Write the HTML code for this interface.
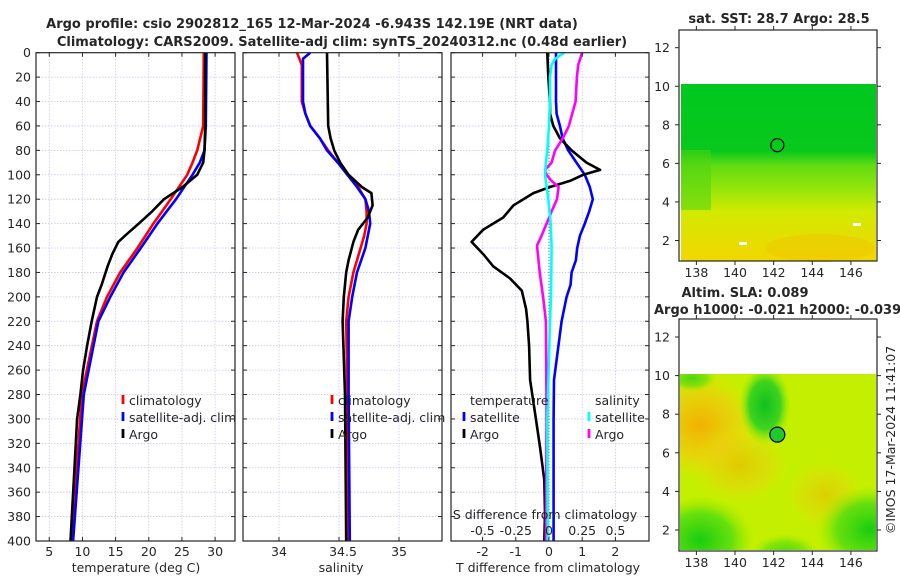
<!DOCTYPE html>
<html><head><meta charset="utf-8">
<style>
html,body{margin:0;padding:0;background:#fff;}
svg{display:block;font-family:"DejaVu Sans","Liberation Sans",sans-serif;}
</style></head>
<body>
<svg id="fig" width="900" height="580" viewBox="0 0 900 580" xmlns="http://www.w3.org/2000/svg">
<defs>
  <linearGradient id="sstGrad" x1="0" y1="0" x2="0" y2="1">
    <stop offset="0" stop-color="#00c81e"/>
    <stop offset="0.38" stop-color="#08c81c"/>
    <stop offset="0.46" stop-color="#60dc12"/>
    <stop offset="0.6" stop-color="#98e60a"/>
    <stop offset="0.72" stop-color="#d2ea00"/>
    <stop offset="1" stop-color="#f2d600"/>
  </linearGradient>
  <radialGradient id="orangeBlob"><stop offset="0" stop-color="#f2b000"/><stop offset="0.6" stop-color="#f0cc10" stop-opacity="0.7"/><stop offset="1" stop-color="#e8e000" stop-opacity="0"/></radialGradient>
  <radialGradient id="greenBlob"><stop offset="0" stop-color="#10c020"/><stop offset="0.6" stop-color="#30d020" stop-opacity="0.9"/><stop offset="1" stop-color="#90e810" stop-opacity="0"/></radialGradient>
  <radialGradient id="greenBlob2"><stop offset="0" stop-color="#18cc10"/><stop offset="0.6" stop-color="#50dc10" stop-opacity="0.8"/><stop offset="1" stop-color="#a0ea00" stop-opacity="0"/></radialGradient>
  <clipPath id="map2clip"><rect x="680" y="374" width="196" height="176"/></clipPath>
</defs>
<g id="layer"></g>
</svg>
<script>
// ---------- data ----------
const argoDepth = [0,20,40,60,80,90,100,110,120,130,140,150,155,165,175,190,200,220,240,260,280,300,340,400];
const argoTemp  = [28.5,28.5,28.5,28.5,28.4,28.2,27.3,25.1,22.3,20.5,18.5,16.4,15.4,14.5,13.8,12.9,12.2,11.4,10.7,10.1,9.7,9.2,8.8,8.2];
const climDepth = [0,60,80,90,100,120,140,160,180,200,220,280,400];
const climTemp  = [28.3,28.2,27.3,26.6,25.8,23.3,20.7,18.3,15.7,13.7,12.2,9.9,8.4];
const satTemp   = [28.7,28.6,28.4,27.7,26.6,24.1,21.3,18.8,16.2,14.2,12.4,10.2,8.6];

const argoSDepth = [0,60,70,80,90,100,110,115,125,135,145,155,170,180,200,220,280,400];
const argoSal    = [34.40,34.41,34.43,34.46,34.51,34.58,34.69,34.77,34.78,34.74,34.66,34.62,34.58,34.56,34.54,34.53,34.55,34.56];
const climSDepth = [0,5,10,20,40,50,60,70,80,90,100,110,120,130,140,150,160,180,200,220,280,400];
const climSal    = [34.15,34.17,34.19,34.19,34.19,34.22,34.26,34.34,34.41,34.49,34.58,34.66,34.72,34.73,34.73,34.71,34.68,34.62,34.58,34.56,34.57,34.58];
const satSal     = [34.26,34.20,34.20,34.20,34.20,34.22,34.26,34.34,34.40,34.49,34.57,34.65,34.72,34.75,34.76,34.74,34.72,34.65,34.61,34.58,34.58,34.59];

const dTDepth   = [0,20,40,50,60,70,80,90,96,100,105,110,115,125,135,145,155,165,175,185,195,210,220,240,268,295,323,350,377,400];
const argoDT    = [-0.05,-0.02,0.03,0.03,0.13,0.33,0.68,1.13,1.54,1.03,0.63,0.03,-0.47,-1.07,-1.38,-1.98,-2.33,-1.98,-1.68,-1.17,-0.82,-0.69,-0.65,-0.60,-0.57,-0.42,-0.27,-0.14,-0.12,-0.14];
const satDDepth = [0,20,40,50,60,70,80,90,100,110,120,130,140,150,160,170,180,190,200,220,268,300,400];
const satDT     = [0.21,0.21,0.21,0.23,0.33,0.41,0.58,0.83,1.08,1.23,1.32,1.21,1.08,0.93,0.85,0.81,0.68,0.65,0.53,0.38,0.15,0.14,0.14];
const satDSDepth= [0,5,10,20,40,60,80,90,100,110,120,140,160,200,220,300,400];
const satDS     = [0.115,0.046,0.02,0.008,0.008,0,-0.013,-0.023,-0.03,-0.018,-0.005,0.013,0.02,0.015,0.008,-0.013,-0.01];
const argoDSDepth=[0,10,20,40,50,60,70,80,90,96,100,105,110,120,130,140,150,158,180,200,220,300,400];
const argoDS    = [0.25,0.22,0.21,0.2,0.175,0.15,0.105,0.046,0.02,-0.03,-0.018,0.02,0.072,0.06,0.02,-0.018,-0.056,-0.09,-0.07,-0.044,-0.023,-0.018,-0.023];

const depthTicks = [0,20,40,60,80,100,120,140,160,180,200,220,240,260,280,300,320,340,360,380,400];
const tempTicks = [5,10,15,20,25,30];
const salTicks = [34,34.5,35];
const salTickLabels = ['34','34.5','35'];
const dTTicks = [-2,-1,0,1,2];
const dSTicks = [-0.5,-0.25,0,0.25,0.5];
const dSTickLabels = ['-0.5','-0.25','0','0.25','0.5'];
const lonTicks = [138,140,142,144,146];
const latTicks = [2,4,6,8,10,12];

// ---------- helpers ----------
const NS='http://www.w3.org/2000/svg';
const layer=document.getElementById('layer');
function mk(tag,attrs,parent){const e=document.createElementNS(NS,tag);for(const k in attrs)e.setAttribute(k,attrs[k]);(parent||layer).appendChild(e);return e;}
function txt(x,y,s,size,anchor,weight,parent){const t=mk('text',{x:x,y:y,'font-size':size,'text-anchor':anchor||'middle','fill':'#262626','font-weight':weight||'normal'},parent);t.textContent=s;return t;}

const Y0=52.7, YS=(541-52.7)/400;
function yD(d){return Y0+d*YS;}
const P1={x0:36,x1:235,lo:3,hi:33};
const P2={x0:243,x1:442,lo:33.7,hi:35.358};
const P3={x0:451,x1:649,lo:-2.951,hi:3.012};
function xf(P,v){return P.x0+(v-P.lo)/(P.hi-P.lo)*(P.x1-P.x0);}
function xS3(v){return xf(P3,v*4);}

function panelFrame(P,name,xt){
  const g=mk('g',{});
  
  
  for(const d of depthTicks){ if(d===0||d===400)continue;
    const l=mk('line',{x1:P.x0,x2:P.x1,y1:yD(d),y2:yD(d),stroke:'#c4c8e8','stroke-width':0.8,'stroke-dasharray':'1.5,1.5'},g);
    
    
  }
  xt.forEach(v=>{const x=xf(P,v);
    const l=mk('line',{x1:x,x2:x,y1:Y0,y2:yD(400),stroke:'#c4c8e8','stroke-width':0.8,'stroke-dasharray':'1.5,1.5'},g);
    
    
  });
  return g;
}
function panelBorder(P,xt){
  const g=mk('g',{});
  for(const d of depthTicks){const y=yD(d);
    mk('line',{x1:P.x0,x2:P.x0+4,y1:y,y2:y,stroke:'#262626','stroke-width':1},g);
    mk('line',{x1:P.x1-4,x2:P.x1,y1:y,y2:y,stroke:'#262626','stroke-width':1},g);}
  xt.forEach(v=>{const x=xf(P,v);
    mk('line',{x1:x,x2:x,y1:Y0,y2:Y0+4,stroke:'#262626','stroke-width':1},g);
    mk('line',{x1:x,x2:x,y1:yD(400)-4,y2:yD(400),stroke:'#262626','stroke-width':1},g);});
  const r=mk('rect',{x:P.x0,y:Y0,width:P.x1-P.x0,height:yD(400)-Y0,fill:'none',stroke:'#262626','stroke-width':1.2},g);
  
  
}
function line(xs,ds,xfun,color,name){
  const pts=xs.map((v,i)=>xfun(v).toFixed(1)+','+yD(ds[i]).toFixed(1)).join(' ');
  const p=mk('polyline',{points:pts,fill:'none',stroke:color,'stroke-width':2.6,'stroke-linejoin':'round'});
  
  
  return p;
}
function legendEntry(x,y,color,label,name){
  const g=mk('g',{});
  
  
  mk('line',{x1:x,x2:x,y1:y-10,y2:y-1,stroke:color,'stroke-width':2.8},g);
  txt(x+6,y,label,12.5,'start','normal',g);
}

// ---------- titles ----------
const t1=txt(312,28,'Argo profile: csio 2902812_165 12-Mar-2024 -6.943S 142.19E (NRT data)',13,'middle','bold');


const t2=txt(342,46,'Climatology: CARS2009. Satellite-adj clim: synTS_20240312.nc (0.48d earlier)',13,'middle','bold');



// ---------- panel 1: temperature ----------
panelFrame(P1,'temperature-panel',tempTicks);
line(climTemp,climDepth,v=>xf(P1,v),'#ff0000','temp-climatology-line');
line(satTemp,climDepth,v=>xf(P1,v),'#0000ff','temp-satellite-line');
line(argoTemp,argoDepth,v=>xf(P1,v),'#000000','temp-argo-line');
panelBorder(P1,tempTicks);
depthTicks.forEach(d=>{const t=txt(31,yD(d)+4.5,String(d),12.5,'end');
  
  });
tempTicks.forEach(v=>{const t=txt(xf(P1,v),556,String(v),12.5);
  
  });
const xl1=txt(136,572,'temperature (deg C)',12.5);


legendEntry(123,405,'#ff0000','climatology','legend-entry-climatology');
legendEntry(123,422,'#0000ff','satellite-adj. clim','legend-entry-satellite');
legendEntry(123,439,'#000000','Argo','legend-entry-argo');

// ---------- panel 2: salinity ----------
panelFrame(P2,'salinity-panel',salTicks);
line(climSal,climSDepth,v=>xf(P2,v),'#ff0000','sal-climatology-line');
line(satSal,climSDepth,v=>xf(P2,v),'#0000ff','sal-satellite-line');
line(argoSal,argoSDepth,v=>xf(P2,v),'#000000','sal-argo-line');
panelBorder(P2,salTicks);
salTicks.forEach((v,i)=>{const t=txt(xf(P2,v)+(i===1?4:0),556,salTickLabels[i],12.5);
  
  });
const xl2=txt(341,572,'salinity',12.5);


legendEntry(332,405,'#ff0000','climatology','legend-entry-climatology-sal');
legendEntry(332,422,'#0000ff','satellite-adj. clim','legend-entry-satellite-sal');
legendEntry(332,439,'#000000','Argo','legend-entry-argo-sal');

// ---------- panel 3: differences ----------
panelFrame(P3,'difference-panel',dTTicks);
const zl=mk('line',{x1:xf(P3,0),x2:xf(P3,0),y1:Y0,y2:yD(400),stroke:'#406040','stroke-width':1,'stroke-dasharray':'1,2'});


line(satDT,satDDepth,v=>xf(P3,v),'#0000ff','tdiff-satellite-line');
line(argoDT,dTDepth,v=>xf(P3,v),'#000000','tdiff-argo-line');
line(argoDS,argoDSDepth,xS3,'#ff00ff','sdiff-argo-line');
line(satDS,satDSDepth,xS3,'#00ffff','sdiff-satellite-line');
panelBorder(P3,dTTicks);
dTTicks.forEach(v=>{const t=txt(xf(P3,v),556,String(v),12.5);
  
  });
dSTicks.forEach((v,i)=>{const t=txt(xS3(v),535,dSTickLabels[i],12.5);
  
  });
const sl=txt(545,519,'S difference from climatology',12.5);


const tl=txt(548,572,'T difference from climatology',12.5);


const lt=txt(470,405,'temperature',12.5,'start');


legendEntry(464,422,'#0000ff','satellite','legend-entry-tdiff-satellite');
legendEntry(464,439,'#000000','Argo','legend-entry-tdiff-argo');
const ls=txt(595,405,'salinity',12.5,'start');


legendEntry(589,422,'#00ffff','satellite','legend-entry-sdiff-satellite');
legendEntry(589,439,'#ff00ff','Argo','legend-entry-sdiff-argo');

// ---------- maps ----------
const LON0=137.1, LON1=147.35, MX0=679, MX1=877;
function lonX(l){return MX0+(l-LON0)/(LON1-LON0)*(MX1-MX0);}
function mapAxes(top,bot,lat12y,lat2y,name){
  const latY=l=>lat2y+(l-2)*(lat12y-lat2y)/10;
  const g=mk('g',{});
  
  
  mk('rect',{x:MX0,y:top,width:MX1-MX0,height:bot-top,fill:'none',stroke:'#262626','stroke-width':1.2},g);
  latTicks.forEach(l=>{const y=latY(l);
    mk('line',{x1:MX0-4,x2:MX0,y1:y,y2:y,stroke:'#262626'},g);
    mk('line',{x1:MX1,x2:MX1+4,y1:y,y2:y,stroke:'#262626'},g);
    const t=txt(670,y+4.5,String(l),12.5,'end','normal',g);
    
    });
  lonTicks.forEach(l=>{const x=lonX(l);
    mk('line',{x1:x,x2:x,y1:bot,y2:bot+4,stroke:'#262626'},g);
    mk('line',{x1:x,x2:x,y1:top-4,y2:top,stroke:'#262626'},g);
    const t=txt(x,bot+16,String(l),12.5,'middle','normal',g);
    
    });
  return latY;
}
// map 1 SST
const sst=mk('rect',{x:681,y:84,width:195,height:177,fill:'url(#sstGrad)'});


mk('rect',{x:681,y:150,width:30,height:60,fill:'#50d414',opacity:0.55});
mk('ellipse',{cx:820,cy:248,rx:55,ry:14,fill:'#f0c400',opacity:0.45});
mk('rect',{x:739,y:242,width:8,height:3,fill:'#fff'});
mk('rect',{x:853,y:223,width:8,height:3,fill:'#fff'});
const latY1=mapAxes(30,261,47.7,240.5,'sst-map-axes');
const c1=mk('circle',{cx:lonX(142.19),cy:latY1(6.943),r:6.5,fill:'none',stroke:'#000','stroke-width':1.2});


const mt1=txt(779,23,'sat. SST: 28.7 Argo: 28.5',13,'middle','bold');



// map 2 SLA
const mg=mk('g',{'clip-path':'url(#map2clip)'});


mk('rect',{x:680,y:374,width:196,height:176,fill:'#c4f000'},mg);
mk('ellipse',{cx:700,cy:425,rx:60,ry:55,fill:'url(#orangeBlob)'},mg);
mk('ellipse',{cx:740,cy:465,rx:50,ry:40,fill:'url(#orangeBlob)',opacity:0.6},mg);
mk('ellipse',{cx:825,cy:495,rx:40,ry:35,fill:'url(#orangeBlob)',opacity:0.5},mg);
mk('ellipse',{cx:765,cy:405,rx:26,ry:40,fill:'url(#greenBlob)'},mg);
mk('ellipse',{cx:700,cy:540,rx:55,ry:45,fill:'url(#greenBlob2)'},mg);
mk('ellipse',{cx:870,cy:530,rx:55,ry:45,fill:'url(#greenBlob2)'},mg);
mk('ellipse',{cx:785,cy:555,rx:35,ry:22,fill:'url(#greenBlob2)',opacity:0.7},mg);
mk('ellipse',{cx:692,cy:378,rx:25,ry:14,fill:'url(#greenBlob2)',opacity:0.7},mg);
const latY2=mapAxes(319,551,337,530,'sla-map-axes');
const c2=mk('circle',{cx:lonX(142.19),cy:latY2(6.943),r:7.5,fill:'#20c830',stroke:'#000','stroke-width':1.2});


const mt2=txt(745,297,'Altim. SLA: 0.089',13,'middle','bold');


const mt3=txt(654,314,'Argo h1000: -0.021 h2000: -0.039',13,'start','bold');


const cr=txt(0,0,'©IMOS 17-Mar-2024 11:41:07',12.5,'middle');
cr.setAttribute('transform','translate(895,440) rotate(-90)');


</script>
</body></html>
